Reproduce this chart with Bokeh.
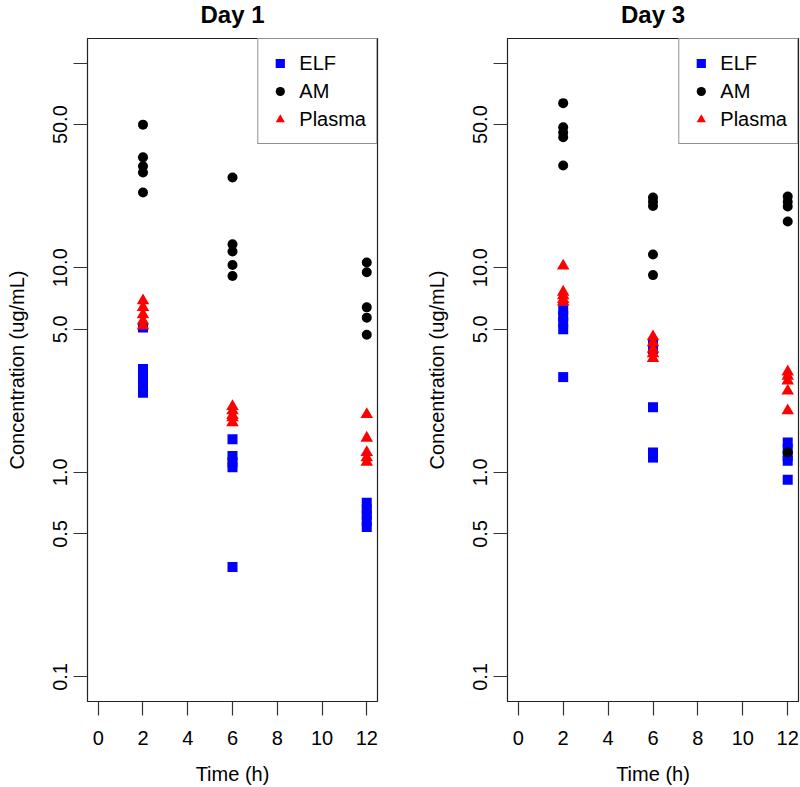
import math
from bokeh.plotting import figure
from bokeh.layouts import row, column
from bokeh.models import Range1d, FixedTicker, Legend, LegendItem
from bokeh.core.properties import value
from bokeh.embed import file_html
from bokeh.resources import INLINE

# ---------------- data ----------------
sample_time_h = [2, 2, 2, 2, 2, 6, 6, 6, 6, 6, 12, 12, 12, 12, 12]

x_ticks = [0, 2, 4, 6, 8, 10, 12]
x_tick_labels = ["0", "2", "4", "6", "8", "10", "12"]
y_ticks = [0.1, 0.5, 1, 5, 10, 50, 100]
y_tick_labels = ["0.1", "0.5", "1.0", "5.0", "10.0", "50.0", ""]
x_lim = (0, 12)
y_lim = (0.1, 100)

panel_titles = ["Day 1", "Day 3"]
series_names = ["ELF", "AM", "Plasma"]
series_colors = ["#0000FF", "#000000", "#FF0000"]
x_label = "Time (h)"
y_label = "Concentration (ug/mL)"

day1_elf = [5.1, 3.2, 2.9, 2.65, 2.45,
            1.45, 1.2, 1.12, 1.06, 0.345,
            0.71, 0.66, 0.62, 0.58, 0.54]
day1_am = [50.0, 34.6, 31.3, 29.2, 23.3,
           27.6, 13.0, 12.0, 10.3, 9.1,
           10.6, 9.5, 6.4, 5.7, 4.7]
day1_plasma = [6.9, 6.4, 5.9, 5.5, 5.2,
               2.1, 2.0, 1.9, 1.85, 1.75,
               1.92, 1.47, 1.25, 1.18, 1.12]

day3_elf = [6.2, 5.8, 5.4, 5.0, 2.92,
            4.2, 4.0, 2.08, 1.25, 1.18,
            1.4, 1.3, 1.2, 1.14, 0.92]
day3_am = [63.7, 48.6, 45.8, 43.4, 31.6,
           22.0, 21.0, 20.0, 11.6, 9.2,
           22.3, 21.0, 19.9, 16.8, 1.25]
day3_plasma = [10.2, 7.6, 7.3, 7.0, 6.8,
               4.6, 4.3, 4.0, 3.8, 3.6,
               3.1, 2.95, 2.8, 2.5, 2.0]

# ---------------- styling ----------------
FONT = "Liberation Sans"
FS = "20px"
FIG_W = 400
STRIP_H = 36
MAIN_H = 751
B_TOP, B_BOTTOM = 2, 85
TITLE_Y = 0.6


def make_panel(title, elf, am, plasma, border_left, border_right):
    pad_x = 0.04 * (x_lim[1] - x_lim[0])
    lo, hi = math.log10(y_lim[0]), math.log10(y_lim[1])
    pad_y = 0.04 * (hi - lo)
    xr = Range1d(x_lim[0] - pad_x, x_lim[1] + pad_x)

    # title strip, aligned with the plotting box below it
    t = figure(width=FIG_W, height=STRIP_H, output_backend="svg", toolbar_location=None,
               title=None, x_range=xr, y_range=Range1d(0, 1),
               x_axis_location=None, y_axis_location=None,
               min_border_left=border_left, min_border_right=border_right,
               min_border_top=0, min_border_bottom=0)
    t.grid.visible = False
    t.outline_line_color = None
    t.text(x=[(x_lim[0] + x_lim[1]) / 2], y=[TITLE_Y], text=[title],
           text_align="center", text_baseline="alphabetic",
           text_font=value(FONT), text_font_size="24px",
           text_font_style="bold", text_color="black")

    p = figure(width=FIG_W, height=MAIN_H, output_backend="svg", toolbar_location=None,
               title=None, y_axis_type="log",
               x_range=xr,
               y_range=Range1d(10 ** (lo - pad_y), 10 ** (hi + pad_y)),
               min_border_left=border_left, min_border_right=border_right,
               min_border_top=B_TOP, min_border_bottom=B_BOTTOM)
    p.grid.visible = False
    p.outline_line_color = "#222222"
    p.outline_line_width = 1.2
    p.background_fill_color = "white"
    p.border_fill_color = "white"

    for ax in (p.xaxis[0], p.yaxis[0]):
        ax.axis_line_color = None
        ax.major_tick_in = 0
        ax.major_tick_out = 14
        ax.major_tick_line_color = "#333333"
        ax.major_tick_line_width = 1.2
        ax.minor_tick_line_color = None
        ax.major_label_text_font = FONT
        ax.major_label_text_font_size = FS
        ax.major_label_text_color = "black"
        ax.axis_label_text_font = FONT
        ax.axis_label_text_font_size = FS
        ax.axis_label_text_font_style = "normal"
        ax.axis_label_text_color = "black"

    p.xaxis.ticker = FixedTicker(ticks=x_ticks)
    p.xaxis.major_label_overrides = {t_: l for t_, l in zip(x_ticks, x_tick_labels)}
    p.xaxis.major_label_standoff = 15
    p.xaxis.axis_label = x_label
    p.xaxis.axis_label_standoff = 15

    p.yaxis.ticker = FixedTicker(ticks=y_ticks)
    p.yaxis.major_label_overrides = {t_: l for t_, l in zip(y_ticks, y_tick_labels)}
    p.yaxis.major_label_orientation = "vertical"
    p.yaxis.major_label_standoff = 6
    p.yaxis.axis_label = y_label
    p.yaxis.axis_label_standoff = 23

    r_elf = p.scatter(sample_time_h, elf, marker="square", size=10,
                      fill_color=series_colors[0], line_color=None)
    r_am = p.scatter(sample_time_h, am, marker="circle", size=10,
                     fill_color=series_colors[1], line_color=None)
    r_pl = p.scatter(sample_time_h, plasma, marker="triangle", size=12.5,
                     fill_color=series_colors[2], line_color=None)

    legend = Legend(items=[LegendItem(label=series_names[0], renderers=[r_elf]),
                           LegendItem(label=series_names[1], renderers=[r_am]),
                           LegendItem(label=series_names[2], renderers=[r_pl])],
                    location="top_right")
    legend.margin = 0
    legend.padding = 10
    legend.spacing = 0
    legend.glyph_width = 23
    legend.glyph_height = 28
    legend.label_height = 28
    legend.label_standoff = 8
    legend.label_text_font = FONT
    legend.label_text_font_size = FS
    legend.label_text_color = "black"
    legend.border_line_color = "#222222"
    legend.border_line_width = 1.2
    legend.background_fill_color = "white"
    legend.background_fill_alpha = 1.0
    p.add_layout(legend)
    return column(t, p, spacing=0)


c1 = make_panel(panel_titles[0], day1_elf, day1_am, day1_plasma, 87, 23)
c2 = make_panel(panel_titles[1], day3_elf, day3_am, day3_plasma, 107, 2)

layout = row(c1, c2, spacing=0)
open("out.html", "w").write(file_html(layout, INLINE))
